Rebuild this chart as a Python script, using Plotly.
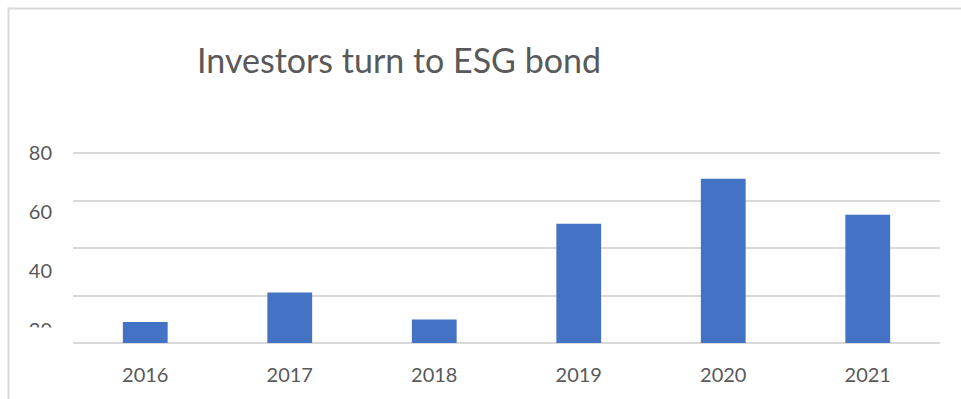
import plotly.graph_objects as go

# Data
years = ["2016", "2017", "2018", "2019", "2020", "2021"]
issuance = [8.8, 21.3, 9.9, 50.2, 69.2, 54.0]
y_tick_values = [80, 60, 40, 20]
y_tick_labels = ["80", "60", "40", "20"]

TEXT = "#595959"
GRID = "#d9d9d9"
BAR = "#4472C4"
FONT = "Lato"

W, H = 961, 399
M_L, M_R, M_T, M_B = 73, 21, 151, 54
PW = W - M_L - M_R
PH = H - M_T - M_B

# pixel geometry of the value axis: 80 sits at y=153, 0 at y=343
TOP_PX, ZERO_PX = 153, 343
UNIT = (ZERO_PX - TOP_PX) / 80
Y_RANGE = [-(H - M_B - ZERO_PX) / UNIT, 80 + (TOP_PX - M_T) / UNIT]

# label axis is stretched: 2.95 px per unit with 80 still at y=153
LABEL_UNIT = 2.95
Y2_RANGE = [80 - (H - M_B - TOP_PX) / LABEL_UNIT, 80 + (TOP_PX - M_T) / LABEL_UNIT]


def px_x(px):
    return (px - M_L) / PW


def px_y(py):
    return (H - M_B - py) / PH


fig = go.Figure()
fig.add_trace(go.Bar(x=years, y=issuance, marker=dict(color=BAR, line=dict(width=0)),
                     hoverinfo="x+y"))
# invisible trace that carries the label axis
fig.add_trace(go.Scatter(x=years, y=[None] * len(years), yaxis="y2",
                         showlegend=False, hoverinfo="skip"))

fig.update_layout(
    width=W, height=H,
    margin=dict(l=M_L, r=M_R, t=M_T, b=M_B, pad=0, autoexpand=False),
    paper_bgcolor="white", plot_bgcolor="white",
    showlegend=False,
    bargap=0.69,
    font=dict(family=FONT, color=TEXT),
    title=dict(text="Investors turn to ESG bond", font=dict(family=FONT, size=34, color=TEXT),
               xref="container", yref="container", x=399 / W, xanchor="center",
               y=1 - 61 / H, yanchor="middle", automargin=False),
    xaxis=dict(type="category", range=[-0.5, 5.5], showgrid=False, zeroline=False,
               showline=False, ticks="", ticklabelstandoff=16, automargin=False,
               tickfont=dict(family=FONT, size=20, color=TEXT)),
    yaxis=dict(range=Y_RANGE, tickvals=[0, 20, 40, 60, 80], showticklabels=False,
               showgrid=True, gridcolor=GRID, gridwidth=2, zeroline=False,
               showline=False, ticks="", automargin=False),
    yaxis2=dict(overlaying="y", side="left", range=Y2_RANGE,
                tickvals=y_tick_values, ticktext=y_tick_labels, showgrid=False,
                zeroline=False, showline=False, ticks="", ticklabelstandoff=20,
                automargin=False, tickfont=dict(family=FONT, size=20, color=TEXT)),
    shapes=[
        # chart frame
        dict(type="line", xref="paper", yref="paper", x0=px_x(8.5), x1=px_x(8.5),
             y0=px_y(7.5), y1=px_y(H + 2), line=dict(color=GRID, width=2), layer="above"),
        dict(type="line", xref="paper", yref="paper", x0=px_x(7.5), x1=px_x(W + 2),
             y0=px_y(8.5), y1=px_y(8.5), line=dict(color=GRID, width=2), layer="above"),
        # axis label panel edge
        dict(type="rect", xref="paper", yref="paper", x0=px_x(14), x1=px_x(70),
             y0=px_y(327.5), y1=px_y(H + 2), fillcolor="white", line=dict(width=0),
             layer="above"),
    ],
)

fig.write_html("out.html")
